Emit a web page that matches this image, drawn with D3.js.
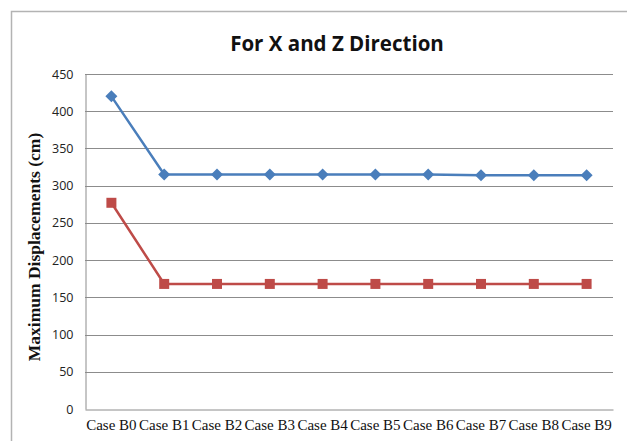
<!DOCTYPE html>
<html>
<head>
<meta charset="utf-8">
<script src="https://cdn.jsdelivr.net/npm/d3@7"></script>
<style>
  html, body { margin: 0; padding: 0; background: #fff; }
  svg { display: block; }
</style>
</head>
<body>
<svg id="chart" width="627" height="441"></svg>
<script>
// Load cases along the x axis
const categories = ["Case B0", "Case B1", "Case B2", "Case B3", "Case B4",
                    "Case B5", "Case B6", "Case B7", "Case B8", "Case B9"];
// Maximum displacement (cm), X direction
const seriesX = [420, 315, 315, 315, 315, 315, 315, 314, 314, 314];
// Maximum displacement (cm), Z direction
const seriesZ = [277, 168, 168, 168, 168, 168, 168, 168, 168, 168];
// Value axis ticks
const yTicks = [0, 50, 100, 150, 200, 250, 300, 350, 400, 450];

const svg = d3.select("#chart");
const plot = { left: 85, right: 613, top: 74, bottom: 409 };

// Chart frame
svg.append("rect")
  .attr("x", 11.5).attr("y", 11.5)
  .attr("width", 720).attr("height", 500)
  .attr("fill", "#fff")
  .attr("stroke", "#b3b3b3").attr("stroke-width", 1.5);

const x = d3.scaleBand().domain(categories).range([plot.left, plot.right]);
const y = d3.scaleLinear().domain([0, 450]).range([plot.bottom, plot.top]);

// Horizontal gridlines
svg.append("g")
  .selectAll("line")
  .data(yTicks.filter(d => d > 0))
  .join("line")
  .attr("x1", plot.left).attr("x2", plot.right)
  .attr("y1", d => Math.round(y(d)) + 0.5).attr("y2", d => Math.round(y(d)) + 0.5)
  .attr("stroke", "#8c8c8c").attr("stroke-width", 1);

// Y axis
const yAxis = svg.append("g")
  .attr("transform", `translate(${plot.left + 0.5},0)`)
  .call(d3.axisLeft(y).tickValues(yTicks).tickSize(0).tickPadding(12));
yAxis.select(".domain").attr("stroke", "#8c8c8c");
yAxis.selectAll("text")
  .attr("font-family", "'Open Sans', sans-serif")
  .attr("font-size", 12.5)
  .attr("fill", "#222");

// X axis
const xAxis = svg.append("g")
  .attr("transform", `translate(0,${Math.round(plot.bottom) + 0.5})`)
  .call(d3.axisBottom(x).tickSize(0).tickPadding(10));
xAxis.select(".domain").attr("stroke", "#8c8c8c");
xAxis.selectAll("text")
  .attr("font-family", "'Liberation Serif', 'Times New Roman', serif")
  .attr("font-size", 15)
  .attr("fill", "#111");

// Title
svg.append("text")
  .attr("x", 337).attr("y", 51)
  .attr("text-anchor", "middle")
  .attr("font-family", "'Open Sans', sans-serif")
  .attr("font-weight", "bold")
  .attr("font-size", 20.5)
  .attr("fill", "#111")
  .text("For X and Z Direction");

// Y axis title
svg.append("text")
  .attr("transform", "translate(40,247) rotate(-90)")
  .attr("text-anchor", "middle")
  .attr("font-family", "'Liberation Serif', 'Times New Roman', serif")
  .attr("font-weight", "bold")
  .attr("font-size", 17.5)
  .attr("fill", "#111")
  .text("Maximum Displacements (cm)");

const cx = d => x(d) + x.bandwidth() / 2;
const line = d3.line().x(d => cx(d.c)).y(d => y(d.v));

// Equal-axis diamond and square markers (half-width r)
const diamondPath = r => `M0,${-r}L${r},0L0,${r}L${-r},0Z`;
const squarePath = r => `M${-r},${-r}H${r}V${r}H${-r}Z`;

function drawSeries(values, color, markerPath) {
  const pts = categories.map((c, i) => ({ c, v: values[i] }));
  svg.append("path")
    .datum(pts)
    .attr("d", line)
    .attr("fill", "none")
    .attr("stroke", color)
    .attr("stroke-width", 2.5);
  svg.append("g")
    .selectAll("path")
    .data(pts)
    .join("path")
    .attr("transform", d => `translate(${cx(d.c)},${y(d.v)})`)
    .attr("d", markerPath)
    .attr("fill", color);
}

drawSeries(seriesX, "#4a7ebb", diamondPath(6));
drawSeries(seriesZ, "#be4b48", squarePath(5));
</script>
</body>
</html>
